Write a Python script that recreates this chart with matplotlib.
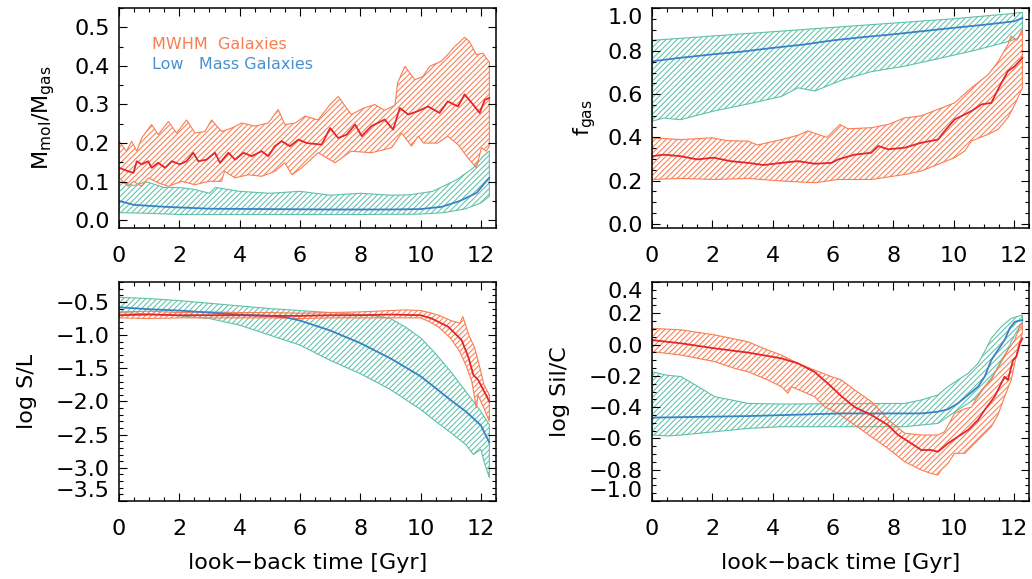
#!/usr/bin/env python3
"""Molecular fraction, gas fraction and dust ratios vs look-back time."""
import numpy as np
import matplotlib
matplotlib.use("Agg")
import matplotlib.pyplot as plt
from matplotlib.ticker import MultipleLocator

# --- Data ---
# Top left: M_mol / M_gas
mol_mw_hi_x = [0, 0.25, 0.42, 0.59, 0.75, 1.08, 1.3, 1.64, 1.91, 2.24, 2.52, 2.85, 3.07, 3.4, 3.74,
               4.07, 4.51, 4.95, 5.28, 5.5, 5.84, 6.17, 6.6, 7.0, 7.27, 7.7, 8.1, 8.48, 8.8, 9.15,
               9.24, 9.48, 9.81, 10.08, 10.3, 10.68, 10.9, 11.13, 11.46, 11.62, 11.85, 12.07, 12.18, 12.28]
mol_mw_hi = [0.205, 0.179, 0.205, 0.179, 0.213, 0.248, 0.222, 0.256, 0.226, 0.26, 0.226, 0.23, 0.26, 0.23,
             0.239, 0.252, 0.244, 0.252, 0.287, 0.248, 0.252, 0.27, 0.26, 0.30, 0.321, 0.274, 0.29, 0.30,
             0.285, 0.298, 0.356, 0.399, 0.364, 0.373, 0.399, 0.412, 0.429, 0.45, 0.474, 0.463, 0.429,
             0.433, 0.42, 0.41]
mol_mw_lo_x = [0, 0.31, 0.48, 0.75, 0.97, 1.3, 1.64, 2.08, 2.52, 2.96, 3.4, 3.5, 3.85, 4.29, 4.73, 5.17,
               5.5, 5.73, 6.06, 6.6, 7.16, 7.7, 8.37, 9.04, 9.37, 9.7, 9.92, 10.1, 10.56, 10.9, 11.24,
               11.57, 11.85, 12.02, 12.18, 12.28]
mol_mw_lo = [0.11, 0.088, 0.101, 0.088, 0.11, 0.097, 0.088, 0.101, 0.092, 0.101, 0.101, 0.127, 0.11,
             0.118, 0.114, 0.127, 0.149, 0.118, 0.136, 0.175, 0.149, 0.179, 0.175, 0.188, 0.226, 0.192,
             0.218, 0.2, 0.2, 0.218, 0.196, 0.162, 0.136, 0.188, 0.179, 0.192]
mol_mw_med_x = [0, 0.31, 0.48, 0.59, 0.75, 0.97, 1.08, 1.3, 1.53, 1.75, 2.02, 2.24, 2.46, 2.63, 2.9,
                3.18, 3.35, 3.63, 3.85, 4.13, 4.4, 4.73, 4.95, 5.17, 5.39, 5.67, 5.95, 6.23, 6.72, 7.0,
                7.27, 7.55, 7.83, 8.05, 8.37, 8.81, 9.09, 9.31, 9.59, 9.92, 10.25, 10.63, 10.9, 11.24,
                11.46, 11.74, 11.96, 12.13, 12.28]
mol_mw_med = [0.136, 0.127, 0.123, 0.153, 0.145, 0.153, 0.136, 0.149, 0.136, 0.153, 0.145, 0.153, 0.175,
              0.153, 0.157, 0.175, 0.149, 0.175, 0.157, 0.175, 0.166, 0.179, 0.166, 0.192, 0.205, 0.192,
              0.209, 0.2, 0.196, 0.239, 0.213, 0.222, 0.248, 0.218, 0.244, 0.261, 0.235, 0.291, 0.274,
              0.283, 0.295, 0.278, 0.308, 0.295, 0.326, 0.3, 0.278, 0.312, 0.317]
mol_lm_hi_x = [0, 0.5, 0.9, 1.5, 2.0, 2.5, 3.0, 3.2, 4.0, 5.0, 6.0, 7.0, 8.0, 9.0, 9.65, 10.4, 11.2,
               11.75, 12.08, 12.28]
mol_lm_hi = [0.10, 0.09, 0.10, 0.085, 0.085, 0.08, 0.07, 0.085, 0.075, 0.07, 0.075, 0.065, 0.07, 0.065,
             0.066, 0.075, 0.105, 0.136, 0.166, 0.18]
mol_lm_lo_x = [0, 1, 2, 4, 6, 8, 10, 10.8, 11.5, 12.0, 12.28]
mol_lm_lo = [0.02, 0.018, 0.015, 0.015, 0.015, 0.015, 0.016, 0.02, 0.03, 0.045, 0.062]
mol_lm_med_x = [0, 0.5, 1.5, 3, 5, 7, 9, 10, 10.7, 11.3, 11.86, 12.08, 12.28]
mol_lm_med = [0.05, 0.04, 0.035, 0.03, 0.029, 0.028, 0.028, 0.029, 0.035, 0.05, 0.071, 0.092, 0.11]

# Top right: gas fraction
fg_mw_hi_x = [0, 0.94, 2.0, 2.5, 3.18, 3.5, 4.29, 4.84, 5.17, 5.8, 6.23, 6.5, 7.27, 7.83, 8.37, 8.92,
              9.48, 10.03, 10.59, 11.14, 11.47, 11.8, 11.9, 12.1, 12.28]
fg_mw_hi = [0.398, 0.39, 0.398, 0.385, 0.383, 0.365, 0.39, 0.41, 0.43, 0.40, 0.46, 0.44, 0.445, 0.46,
            0.49, 0.5, 0.53, 0.56, 0.63, 0.69, 0.75, 0.83, 0.87, 0.85, 0.9]
fg_mw_lo_x = [0, 0.94, 2.04, 3.18, 4.29, 5.4, 6.17, 7.27, 8.37, 8.92, 9.48, 10.03, 10.37, 10.59, 11.14,
              11.47, 11.8, 12.03, 12.28]
fg_mw_lo = [0.205, 0.21, 0.205, 0.21, 0.198, 0.19, 0.205, 0.205, 0.228, 0.244, 0.275, 0.306, 0.337,
            0.383, 0.414, 0.437, 0.491, 0.553, 0.63]
fg_mw_med_x = [0, 0.39, 0.94, 1.5, 2.04, 2.6, 3.18, 3.7, 4.29, 4.84, 5.4, 5.95, 6.17, 6.72, 7.27, 7.5,
               7.83, 8.37, 8.92, 9.48, 9.7, 10.03, 10.59, 10.92, 11.25, 11.47, 11.8, 12.03, 12.28]
fg_mw_med = [0.313, 0.32, 0.313, 0.298, 0.306, 0.29, 0.282, 0.272, 0.282, 0.29, 0.278, 0.282, 0.298,
             0.32, 0.329, 0.36, 0.345, 0.352, 0.375, 0.39, 0.429, 0.483, 0.522, 0.553, 0.56, 0.622,
             0.707, 0.73, 0.769]
fg_lm_hi_x = [0, 2, 4, 6, 8, 10, 12, 12.28]
fg_lm_hi = [0.85, 0.87, 0.89, 0.91, 0.93, 0.95, 0.975, 0.98]
fg_lm_lo_x = [0, 0.39, 0.94, 2.04, 3.18, 4.29, 4.84, 5.4, 6.28, 7.27, 8.37, 9.48, 10.59, 11.7, 12.14, 12.28]
fg_lm_lo = [0.475, 0.49, 0.482, 0.522, 0.555, 0.59, 0.63, 0.615, 0.665, 0.705, 0.73, 0.765, 0.8, 0.84,
            0.86, 0.9]
fg_lm_med_x = [0, 1, 2, 3, 4, 5, 6, 7, 8, 9, 10, 11, 12, 12.28]
fg_lm_med = [0.753, 0.77, 0.785, 0.798, 0.815, 0.83, 0.85, 0.865, 0.878, 0.893, 0.908, 0.922, 0.938, 0.953]

# Bottom left: log S/L
sl_mw_hi_x = [0, 1, 2, 3, 4, 5, 6, 7, 8, 9, 9.5, 10, 10.3, 10.6, 11, 11.3, 11.4, 11.6, 11.8, 12.0, 12.1, 12.28]
sl_mw_hi = [-0.65, -0.64, -0.66, -0.65, -0.66, -0.66, -0.67, -0.66, -0.65, -0.63, -0.62, -0.63, -0.66,
            -0.7, -0.78, -0.82, -0.72, -1.0, -1.2, -1.55, -1.75, -1.9]
sl_mw_lo_x = [0, 1, 2, 3, 4, 5, 6, 7, 8, 9, 10, 10.3, 10.6, 11, 11.3, 11.5, 11.7, 11.85, 11.9, 12.0, 12.1, 12.28]
sl_mw_lo = [-0.74, -0.75, -0.74, -0.74, -0.74, -0.74, -0.75, -0.74, -0.74, -0.74, -0.74, -0.8, -0.88,
            -1.05, -1.25, -1.45, -1.7, -2.1, -1.9, -2.0, -2.1, -2.3]
sl_mw_med_x = [0, 1, 2, 3, 4, 5, 6, 7, 8, 9, 10, 10.37, 10.59, 10.92, 11.14, 11.36, 11.58, 11.75, 11.91,
               12.08, 12.28]
sl_mw_med = [-0.7, -0.69, -0.7, -0.7, -0.7, -0.71, -0.71, -0.7, -0.7, -0.69, -0.7, -0.75, -0.8, -0.875,
             -0.975, -1.075, -1.325, -1.6, -1.675, -1.825, -2.0]
sl_lm_hi_x = [0, 1, 2, 3, 4, 5, 6, 7, 8, 8.5, 9, 9.5, 10, 10.5, 11, 11.5, 12, 12.28]
sl_lm_hi = [-0.43, -0.45, -0.48, -0.52, -0.56, -0.6, -0.63, -0.66, -0.69, -0.71, -0.75, -0.88, -1.04,
            -1.28, -1.55, -1.85, -2.15, -2.35]
sl_lm_lo_x = [0, 1, 2, 3, 4, 5, 6, 7, 8, 9, 10, 10.5, 11, 11.5, 11.75, 12.0, 12.1, 12.28]
sl_lm_lo = [-0.66, -0.68, -0.71, -0.75, -0.85, -1.0, -1.15, -1.38, -1.58, -1.82, -2.12, -2.3, -2.47,
            -2.65, -2.8, -2.72, -2.9, -3.15]
sl_lm_med_x = [0, 1, 2, 3, 4, 5, 5.5, 6, 7, 8, 9, 10, 10.5, 11, 11.5, 12, 12.28]
sl_lm_med = [-0.58, -0.61, -0.63, -0.66, -0.69, -0.71, -0.73, -0.78, -0.93, -1.12, -1.35, -1.62, -1.8,
             -1.98, -2.15, -2.36, -2.62]

# Bottom right: log Sil/C
sc_mw_hi_x = [0, 0.97, 2.08, 3.18, 3.84, 4.29, 4.84, 5.39, 5.95, 6.28, 6.72, 7.27, 7.6, 7.82, 8.05, 8.38,
              8.93, 9.48, 9.7, 9.92, 10.03, 10.37, 10.59, 10.92, 11.25, 11.58, 11.8, 12.03, 12.2, 12.28]
sc_mw_hi = [0.104, 0.094, 0.062, 0.018, -0.035, -0.067, -0.12, -0.163, -0.205, -0.226, -0.29, -0.364,
            -0.429, -0.48, -0.514, -0.567, -0.578, -0.578, -0.557, -0.48, -0.44, -0.41, -0.4, -0.29,
            -0.226, -0.099, -0.035, 0.029, 0.125, 0.135]
sc_mw_lo_x = [0, 0.97, 2.08, 2.74, 3.18, 3.84, 4.29, 4.51, 4.62, 5.39, 5.72, 6.17, 6.72, 7.27, 7.82, 8.38,
              8.93, 9.26, 9.48, 9.59, 9.81, 10.03, 10.37, 10.59, 10.92, 11.25, 11.47, 11.69, 11.91,
              12.14, 12.28]
sc_mw_lo = [-0.045, -0.067, -0.109, -0.152, -0.173, -0.226, -0.269, -0.311, -0.269, -0.333, -0.397,
            -0.44, -0.514, -0.589, -0.663, -0.749, -0.802, -0.824, -0.834, -0.8, -0.76, -0.695, -0.695,
            -0.652, -0.589, -0.525, -0.45, -0.333, -0.226, -0.013, 0.072]
sc_mw_med_x = [0, 0.97, 2.08, 3.18, 4.29, 4.84, 5.39, 5.84, 6.28, 6.72, 7.05, 7.27, 7.82, 8.16, 8.6,
               8.93, 9.26, 9.48, 9.81, 10.14, 10.48, 10.81, 11.03, 11.36, 11.69, 11.8, 11.97, 12.08,
               12.2, 12.28]
sc_mw_med = [0.029, 0.008, -0.024, -0.051, -0.088, -0.12, -0.175, -0.25, -0.33, -0.4, -0.43, -0.45,
             -0.514, -0.578, -0.632, -0.674, -0.674, -0.685, -0.632, -0.589, -0.546, -0.482, -0.418,
             -0.333, -0.205, -0.226, -0.099, -0.077, 0.008, 0.04]
sc_lm_hi_x = [0, 0.47, 0.97, 1.53, 2.08, 2.63, 3.18, 4.3, 6, 8.38, 8.93, 9.48, 9.81, 10.14, 10.48, 10.81,
              11.03, 11.25, 11.58, 11.91, 12.28]
sc_lm_hi = [-0.173, -0.195, -0.205, -0.269, -0.333, -0.354, -0.376, -0.38, -0.378, -0.376, -0.354,
            -0.322, -0.269, -0.226, -0.184, -0.12, -0.045, 0.04, 0.115, 0.168, 0.189]
sc_lm_lo_x = [0, 0.5, 0.97, 2.08, 3.18, 4.29, 6.28, 8.38, 8.93, 9.48, 9.81, 10.14, 10.48, 10.81, 11.03,
              11.36, 11.69, 11.91, 12.14, 12.28]
sc_lm_lo = [-0.578, -0.584, -0.578, -0.557, -0.536, -0.525, -0.525, -0.525, -0.514, -0.504, -0.461,
            -0.418, -0.376, -0.333, -0.269, -0.184, -0.077, 0.019, 0.1, 0.12]
sc_lm_med_x = [0, 3.18, 6.28, 8.93, 9.48, 9.81, 10.14, 10.48, 10.81, 11.03, 11.25, 11.47, 11.69, 11.86,
               12.03, 12.28]
sc_lm_med = [-0.467, -0.457, -0.44, -0.44, -0.429, -0.414, -0.376, -0.322, -0.269, -0.205, -0.099,
             -0.035, 0.029, 0.104, 0.146, 0.157]

# Colours
c_mw_band = "#fa7d52"
c_mw_line = "#e3262a"
c_lm_band = "#5fc1aa"
c_lm_line = "#3a82c6"
c_lm_text = "#4a90d0"


def band(ax, xu, yu, xl, yl, color):
    # hatched region between upper and lower curve
    xs = np.concatenate([np.asarray(xu), np.asarray(xl)[::-1]])
    ys = np.concatenate([np.asarray(yu), np.asarray(yl)[::-1]])
    ax.fill(xs, ys, facecolor="none", edgecolor=color, hatch="//////", lw=0.8)


def style(ax, ylim, ymaj, ymin):
    ax.set_xlim(0, 12.5)
    ax.set_ylim(*ylim)
    ax.xaxis.set_major_locator(MultipleLocator(2))
    ax.xaxis.set_minor_locator(MultipleLocator(0.5))
    ax.yaxis.set_major_locator(MultipleLocator(ymaj))
    ax.yaxis.set_minor_locator(MultipleLocator(ymin))
    ax.tick_params(which="both", direction="in", top=True, right=True, width=0.8)
    ax.tick_params(which="major", length=5.5)
    ax.tick_params(which="minor", length=3)
    ax.tick_params(axis="x", pad=13)
    ax.tick_params(axis="y", pad=6.5)


def main():
    plt.rcParams["font.family"] = "DejaVu Sans"
    plt.rcParams["font.size"] = 16
    plt.rcParams["mathtext.default"] = "regular"
    plt.rcParams["axes.linewidth"] = 1.1
    plt.rcParams["hatch.linewidth"] = 0.75

    fig = plt.figure(figsize=(10.32, 5.79), dpi=100)
    ax_tl = fig.add_axes([0.1153, 0.6062, 0.3653, 0.380])
    ax_tr = fig.add_axes([0.6318, 0.6062, 0.3653, 0.380])
    ax_bl = fig.add_axes([0.1153, 0.1347, 0.3653, 0.3782])
    ax_br = fig.add_axes([0.6318, 0.1347, 0.3653, 0.3782])

    panels = [
        (ax_tl, (mol_lm_hi_x, mol_lm_hi, mol_lm_lo_x, mol_lm_lo, mol_lm_med_x, mol_lm_med),
         (mol_mw_hi_x, mol_mw_hi, mol_mw_lo_x, mol_mw_lo, mol_mw_med_x, mol_mw_med)),
        (ax_tr, (fg_lm_hi_x, fg_lm_hi, fg_lm_lo_x, fg_lm_lo, fg_lm_med_x, fg_lm_med),
         (fg_mw_hi_x, fg_mw_hi, fg_mw_lo_x, fg_mw_lo, fg_mw_med_x, fg_mw_med)),
        (ax_bl, (sl_lm_hi_x, sl_lm_hi, sl_lm_lo_x, sl_lm_lo, sl_lm_med_x, sl_lm_med),
         (sl_mw_hi_x, sl_mw_hi, sl_mw_lo_x, sl_mw_lo, sl_mw_med_x, sl_mw_med)),
        (ax_br, (sc_lm_hi_x, sc_lm_hi, sc_lm_lo_x, sc_lm_lo, sc_lm_med_x, sc_lm_med),
         (sc_mw_hi_x, sc_mw_hi, sc_mw_lo_x, sc_mw_lo, sc_mw_med_x, sc_mw_med)),
    ]
    for ax, lm, mw in panels:
        band(ax, lm[0], lm[1], lm[2], lm[3], c_lm_band)
        band(ax, mw[0], mw[1], mw[2], mw[3], c_mw_band)
        ax.plot(lm[4], lm[5], color=c_lm_line, lw=1.3)
        ax.plot(mw[4], mw[5], color=c_mw_line, lw=1.3)

    style(ax_tl, (-0.02, 0.55), 0.1, 0.05)
    style(ax_tr, (-0.02, 1.0), 0.2, 0.05)
    style(ax_bl, (-3.5, -0.2), 0.5, 0.1)
    style(ax_br, (-1.0, 0.4), 0.2, 0.05)

    # Axis labels
    ax_tl.set_ylabel("$M_{mol}/M_{gas}$")
    ax_tl.yaxis.set_label_coords(-0.165, 0.5)
    ax_tr.set_ylabel("$f_{gas}$")
    ax_tr.yaxis.set_label_coords(-0.143, 0.5)
    ax_bl.set_ylabel("log S/L")
    ax_bl.yaxis.set_label_coords(-0.2175, 0.5)
    ax_br.set_ylabel("log Sil/C")
    ax_br.yaxis.set_label_coords(-0.2175, 0.5)
    for ax in (ax_bl, ax_br):
        ax.set_xlabel("look\u2212back time [Gyr]", labelpad=10)

    # Legend as coloured text
    ax_tl.text(1.09, 0.455, "MWHM  Galaxies", color=c_mw_band, fontsize=11.5, va="center")
    ax_tl.text(1.09, 0.403, "Low   Mass Galaxies", color=c_lm_text, fontsize=11.5, va="center")

    # End labels sitting on the frame are pushed inside
    fig.canvas.draw()
    for ax in (ax_tr, ax_bl, ax_br):
        lo, hi = ax.get_ylim()
        for tick in ax.yaxis.get_major_ticks():
            if abs(tick.get_loc() - hi) < 1e-6:
                tick.label1.set_va("top")
            elif abs(tick.get_loc() - lo) < 1e-6:
                tick.label1.set_va("bottom")

    fig.savefig("out.png", dpi=100)
    plt.close(fig)


if __name__ == "__main__":
    main()
